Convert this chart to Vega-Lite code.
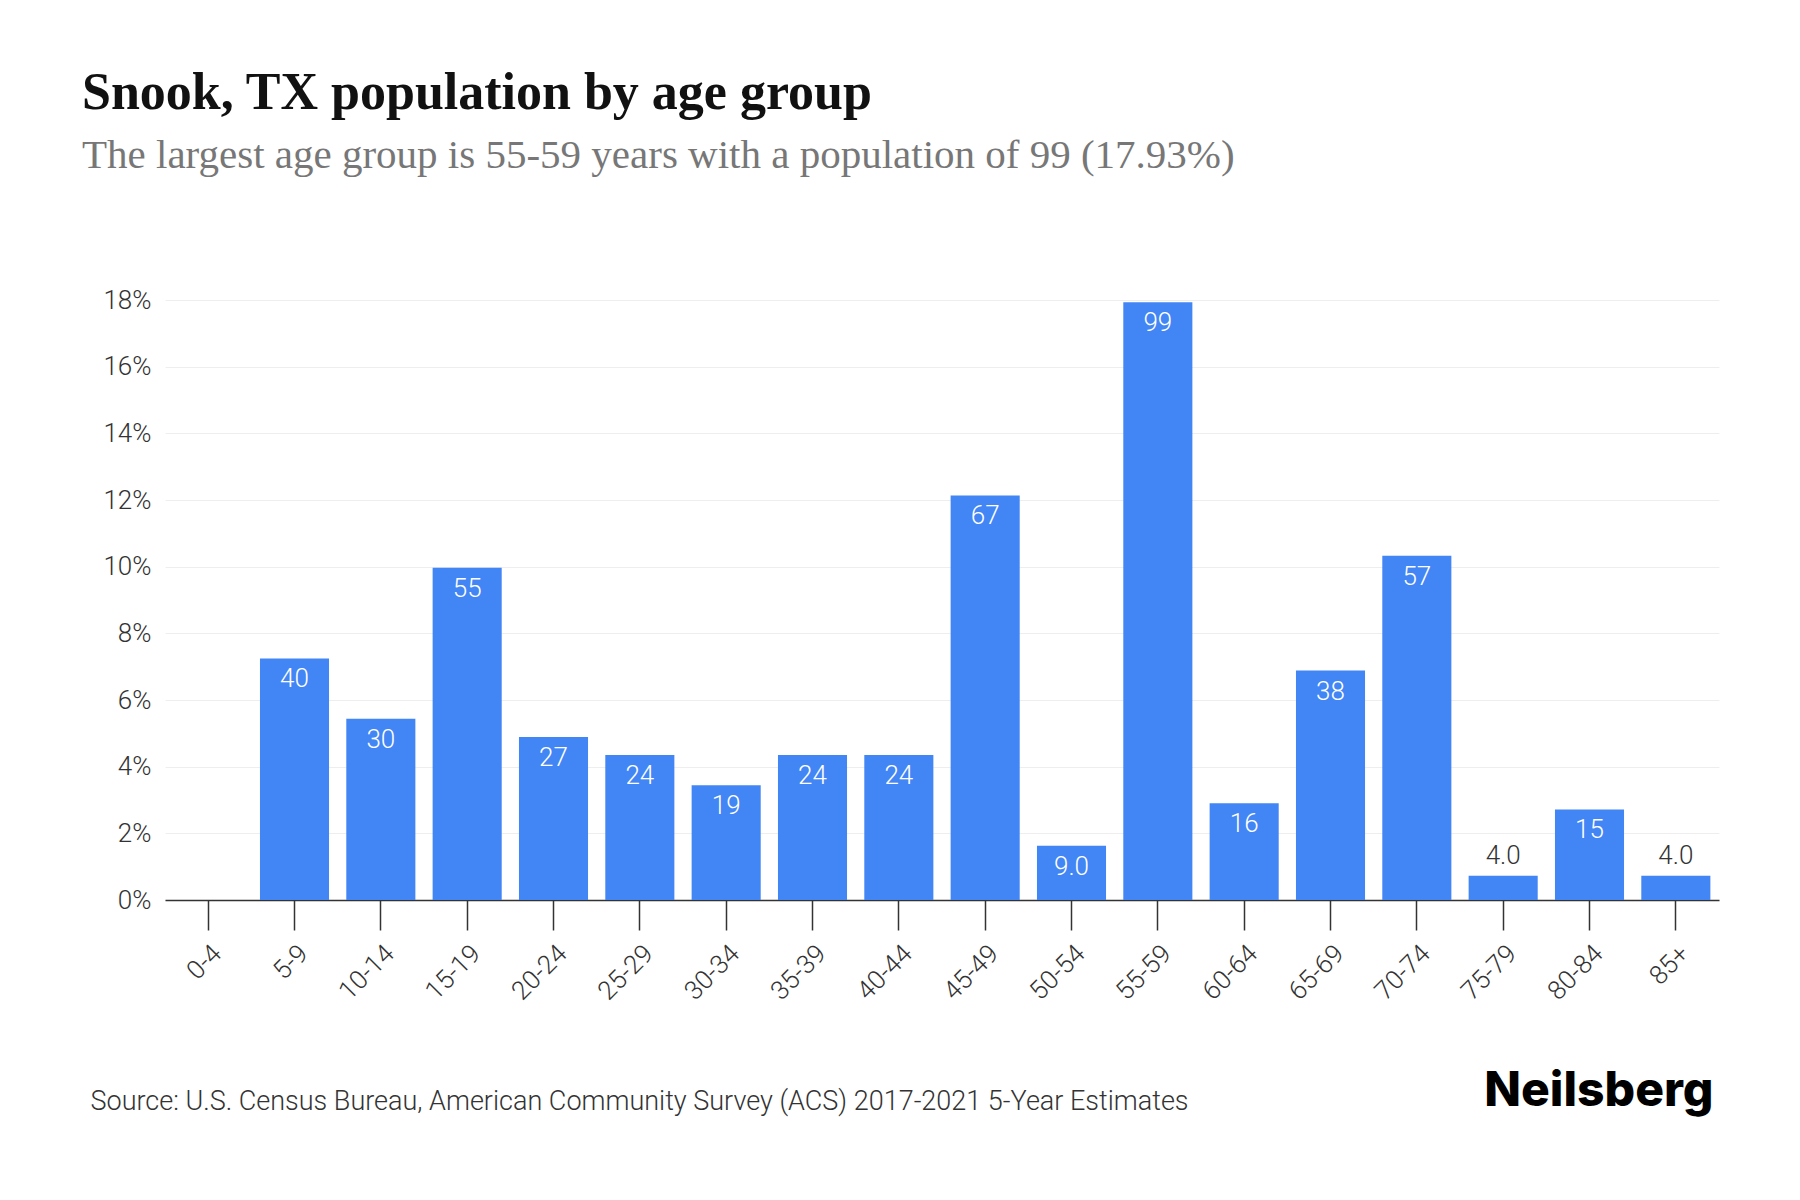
{
  "$schema": "https://vega.github.io/schema/vega-lite/v6.json",
  "width": 1554,
  "height": 600,
  "autosize": {"type": "none"},
  "padding": {"left": 165, "top": 300, "right": 81, "bottom": 300},
  "background": "white",
  "title": {
    "text": "Snook, TX population by age group",
    "subtitle": "The largest age group is 55-59 years with a population of 99 (17.93%)",
    "anchor": "start",
    "dx": -8,
    "offset": 110,
    "font": "Liberation Serif",
    "fontSize": 52,
    "fontWeight": "bold",
    "color": "#111111",
    "subtitleFont": "Liberation Serif",
    "subtitleFontSize": 41,
    "subtitleColor": "#777777",
    "subtitlePadding": 16
  },
  "data": {
    "values": [
      {"age": "0-4", "count": 0, "pct": 0},
      {"age": "5-9", "count": 40, "pct": 0.07246},
      {"age": "10-14", "count": 30, "pct": 0.05435},
      {"age": "15-19", "count": 55, "pct": 0.09964},
      {"age": "20-24", "count": 27, "pct": 0.04891},
      {"age": "25-29", "count": 24, "pct": 0.04348},
      {"age": "30-34", "count": 19, "pct": 0.03442},
      {"age": "35-39", "count": 24, "pct": 0.04348},
      {"age": "40-44", "count": 24, "pct": 0.04348},
      {"age": "45-49", "count": 67, "pct": 0.12138},
      {"age": "50-54", "count": 9, "pct": 0.0163},
      {"age": "55-59", "count": 99, "pct": 0.17935},
      {"age": "60-64", "count": 16, "pct": 0.02899},
      {"age": "65-69", "count": 38, "pct": 0.06884},
      {"age": "70-74", "count": 57, "pct": 0.10326},
      {"age": "75-79", "count": 4, "pct": 0.00725},
      {"age": "80-84", "count": 15, "pct": 0.02717},
      {"age": "85+", "count": 4, "pct": 0.00725}
    ]
  },
  "encoding": {
    "x": {
      "field": "age",
      "type": "ordinal",
      "sort": null,
      "scale": {"paddingInner": 0.2, "paddingOuter": 0.1},
      "axis": {
        "title": "Source: U.S. Census Bureau, American Community Survey (ACS) 2017-2021 5-Year Estimates",
        "titleFont": "Roboto",
        "titleFontWeight": 300,
        "titleFontSize": 27,
        "titleColor": "#333333",
        "titleAlign": "left",
        "titleBaseline": "alphabetic",
        "titleAnchor": null,
        "titleX": -75,
        "titleY": 209,
        "labelAngle": -45,
        "labelFont": "Roboto",
        "labelFontWeight": 300,
        "labelFontSize": 26,
        "labelColor": "#333333",
        "labelPadding": 10,
        "tickSize": 30,
        "tickColor": "#333333",
        "tickWidth": 1.5,
        "domainColor": "#333333",
        "domainWidth": 1.5,
        "grid": false
      }
    },
    "y": {
      "field": "pct",
      "type": "quantitative",
      "scale": {"domain": [0, 0.18], "nice": false},
      "axis": {
        "title": null,
        "format": ".0%",
        "values": [0, 0.02, 0.04, 0.06, 0.08, 0.1, 0.12, 0.14, 0.16, 0.18],
        "labelFont": "Roboto",
        "labelFontWeight": 300,
        "labelFontSize": 26,
        "labelColor": "#333333",
        "labelPadding": 14,
        "domain": false,
        "ticks": false,
        "grid": true,
        "gridColor": "#eeeeee",
        "gridWidth": 1
      }
    }
  },
  "layer": [
    {
      "mark": {"type": "bar", "color": "#4285F4"}
    },
    {
      "transform": [{"filter": "datum.pct >= 0.01"}],
      "mark": {
        "type": "text",
        "baseline": "top",
        "dy": 8,
        "color": "white",
        "font": "Roboto",
        "fontWeight": 300,
        "fontSize": 26
      },
      "encoding": {
        "text": {"field": "count", "type": "quantitative", "format": ".2r"},
        "y": {
          "field": "pct",
          "type": "quantitative",
          "axis": {
            "orient": "right",
            "title": "Neilsberg",
            "titleAngle": 0,
            "titleFont": "Inter",
            "titleFontWeight": 800,
            "titleFontSize": 48,
            "titleColor": "#000000",
            "titleAlign": "right",
            "titleBaseline": "alphabetic",
            "titleX": -6,
            "titleY": 805,
            "labels": false,
            "ticks": false,
            "domain": false,
            "grid": false
          }
        }
      }
    },
    {
      "transform": [{"filter": "datum.pct < 0.01 && datum.count > 0"}],
      "mark": {
        "type": "text",
        "baseline": "alphabetic",
        "dy": -12,
        "color": "#333333",
        "font": "Roboto",
        "fontWeight": 300,
        "fontSize": 26
      },
      "encoding": {
        "text": {"field": "count", "type": "quantitative", "format": ".2r"},
        "y": {"field": "pct", "type": "quantitative", "axis": null}
      }
    }
  ],
  "resolve": {"axis": {"y": "independent"}},
  "config": {"view": {"stroke": null}}
}
